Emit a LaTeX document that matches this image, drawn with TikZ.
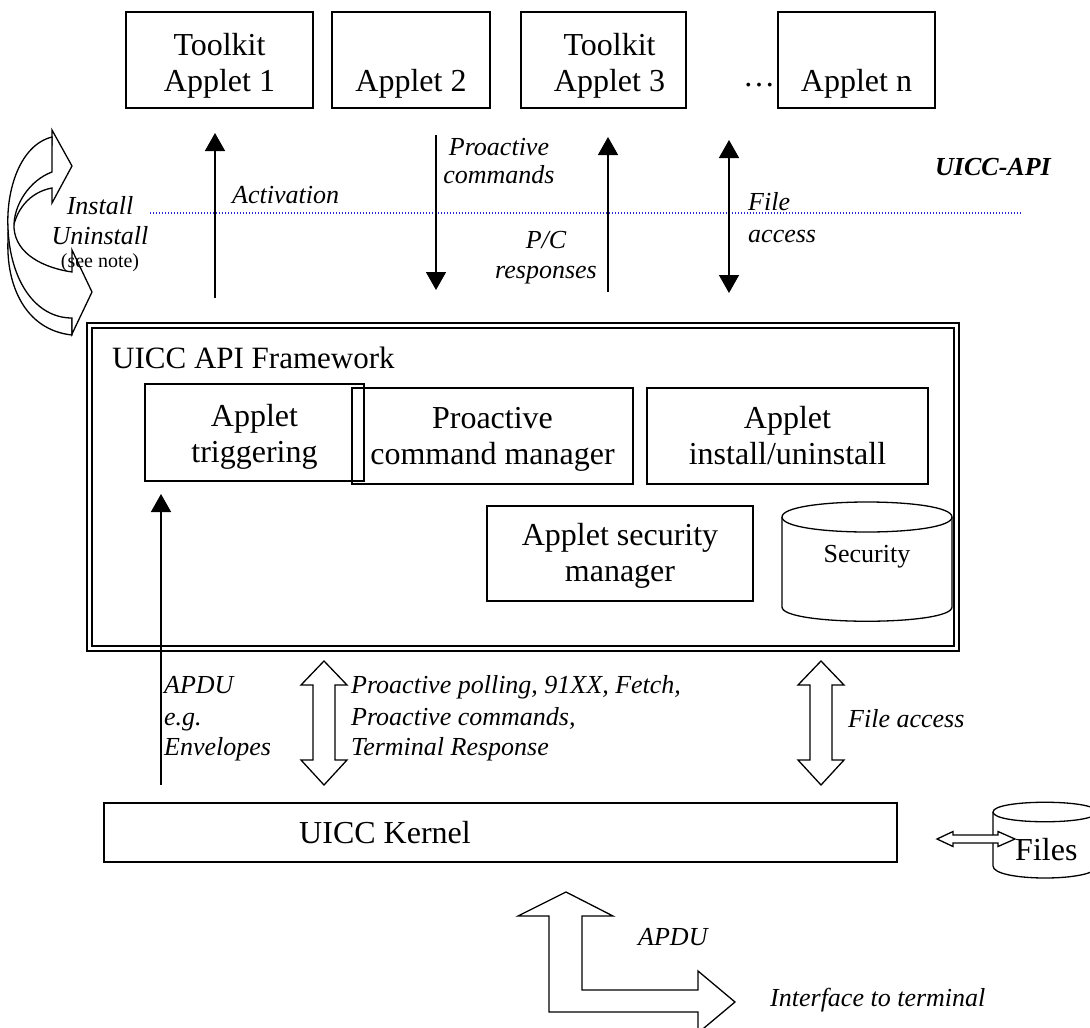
\documentclass[tikz,border=0pt]{standalone}
\usepackage{fontspec}
\setmainfont{Liberation Serif}
\usetikzlibrary{arrows.meta}
\definecolor{apiline}{RGB}{40,40,215}
\begin{document}
\begin{tikzpicture}[x=1pt,y=-1pt,
  box/.style={draw, line width=1.3pt, inner sep=0pt},
  boxtxt/.style={inner sep=0pt, align=center, font=\fontsize{32}{36}\selectfont},
  txt/.style={inner sep=0pt, font=\fontsize{32}{35}\selectfont},
  lbl/.style={inner sep=0pt, font=\fontsize{26}{30}\selectfont\itshape},
  flow/.style={line width=1.5pt, -{Triangle[length=18pt,width=20pt]}},
  flowboth/.style={line width=1.5pt,
     {Triangle[length=18pt,width=20pt]}-{Triangle[length=18pt,width=20pt]}},
  hollow/.style={draw, fill=white, line width=1.3pt, line join=miter},
  vdbl/.pic={\draw[hollow] (0,-62) -- (23,-38) -- (11,-38) -- (11,37) -- (23,37)
       -- (0,62) -- (-23,37) -- (-11,37) -- (-11,-38) -- (-23,-38) -- cycle;},
  hdbl/.pic={\draw[hollow] (-39,0) -- (-23,-7.5) -- (-23,-4) -- (22,-4) -- (22,-7.5)
       -- (39,0) -- (22,7.5) -- (22,4) -- (-23,4) -- (-23,7.5) -- cycle;},
]
\useasboundingbox (0,0) rectangle (1090,1028);

% ---- applets ----
\node[box, minimum width=187pt, minimum height=96pt] (app1) at (219.5,60) {};
\node[box, minimum width=158pt, minimum height=96pt] (app2) at (411,60) {};
\node[box, minimum width=165pt, minimum height=96pt] (app3) at (603.5,60) {};
\node[box, minimum width=157pt, minimum height=96pt] (appn) at (856.5,60) {};
\node[boxtxt] (app1t) at ([yshift=-6pt]app1.center) {\strut Toolkit\\\strut Applet 1};
\node[boxtxt] (app2t) at ([yshift=-6pt]app2.center) {\strut\\\strut Applet 2};
\node[boxtxt] (app3t) at ([xshift=6pt,yshift=-6pt]app3.center) {\strut Toolkit\\\strut Applet 3};
\node[boxtxt] (appnt) at ([yshift=-6pt]appn.center) {\strut\\\strut Applet n};
\node[txt, anchor=base] (dots) at (759,86) {\ldots};

% ---- install / uninstall curved arrows ----
\draw[hollow] (52,145) -- (52,130) -- (72,166) -- (52,203) -- (52,188)
  .. controls (30,192) and (14,210) .. (12,236)
  .. controls (12,262) and (35,292) .. (72,300) -- (72,335)
  .. controls (25,330) and (6,285) .. (8,240)
  .. controls (8,190) and (25,150) .. (52,145) -- cycle;
\draw[hollow] (72,318) -- (72,334) -- (92,292) -- (72,250) -- (72,272)
  .. controls (45,268) and (16,255) .. (14,228)
  .. controls (13,205) and (30,180) .. (52,172) -- (52,137)
  .. controls (20,145) and (6,190) .. (8,228)
  .. controls (10,280) and (35,318) .. (72,318) -- cycle;
\node[lbl, anchor=base] (linst) at (100,214) {Install};
\node[lbl, anchor=base] (luninst) at (100,244) {Uninstall};
\node[inner sep=0pt, font=\fontsize{20}{24}\selectfont, anchor=base] (lnote) at (100,267) {(see note)};

% ---- UICC-API level ----
\coordinate (dotL) at (150,213);
\coordinate (dotR) at (1022,213);
\draw[apiline, line width=1.3pt, dash pattern=on 1.3pt off 1.7pt] (dotL) -- (dotR);
\node[inner sep=0pt, font=\fontsize{26}{30}\selectfont\bfseries\itshape, anchor=base west]
  (lapi) at (935,175) {UICC-API};

\coordinate (actS) at (215,298);  \coordinate (actT) at (215,133);
\coordinate (pcmS) at (436,135);  \coordinate (pcmT) at (436,290);
\coordinate (pcrS) at (608,292);  \coordinate (pcrT) at (608,137);
\coordinate (faT) at (729,140);   \coordinate (faB) at (729,293);
\draw[flow] (actS) -- (actT);
\draw[flow] (pcmS) -- (pcmT);
\draw[flow] (pcrS) -- (pcrT);
\draw[flowboth] (faT) -- (faB);

\node[lbl, anchor=base west] (lact) at (232,203) {Activation};
\node[lbl, anchor=base] (lpc1) at (499,155) {Proactive};
\node[lbl, anchor=base] (lpc2) at (499,183) {commands};
\node[lbl, anchor=base] (lpr1) at (546,248) {P/C};
\node[lbl, anchor=base] (lpr2) at (546,278) {responses};
\node[lbl, anchor=base west] (lfa1) at (748,210) {File};
\node[lbl, anchor=base west] (lfa2) at (748,242) {access};

% ---- framework ----
\node[draw, line width=2.2pt, inner sep=0pt, minimum width=872pt, minimum height=328pt]
  (fw) at (523,487) {};
\node[draw, line width=1.3pt, inner sep=0pt, minimum width=862pt, minimum height=318pt]
  (fwin) at (523,487) {};
\node[inner sep=0pt, font=\fontsize{31}{35}\selectfont, anchor=base west]
  (fwtitle) at (112,368) {UICC API Framework};

\node[box, minimum width=281pt, minimum height=96pt] (proc) at (492.5,436) {};
\node[box, minimum width=219pt, minimum height=97pt] (trig) at (254.5,432.5) {};
\node[box, minimum width=281pt, minimum height=96pt] (inst) at (787.5,436) {};
\node[box, minimum width=266pt, minimum height=95pt] (secm) at (620,553.5) {};
\node[boxtxt] (proct) at ([yshift=-3pt]proc.center) {\strut Proactive\\\strut command manager};
\node[boxtxt] (trigt) at ([yshift=-5pt]trig.center) {\strut Applet\\\strut triggering};
\node[boxtxt] (instt) at ([yshift=-3pt]inst.center) {\strut Applet\\\strut install/uninstall};
\node[boxtxt] (secmt) at ([yshift=-3pt]secm.center) {\strut Applet security\\\strut manager};

% security database
\draw[line width=1.3pt] (782,517) .. controls (782,497) and (952,497) .. (952,517)
  .. controls (952,537) and (782,537) .. (782,517) -- cycle;
\draw[line width=1.3pt] (782,517) -- (782,607) .. controls (782,626) and (952,626) .. (952,607) -- (952,517);
\node[inner sep=0pt, font=\fontsize{26}{30}\selectfont, anchor=base] (lsec) at (867,562) {Security};

% ---- between framework and kernel ----
\coordinate (apduS) at (161,785);
\coordinate (apduT) at (161,494);
\draw[flow] (apduS) -- (apduT);
\node[lbl, anchor=base west] (lap1) at (164,693) {APDU};
\node[lbl, anchor=base west] (lap2) at (164,725) {e.g.};
\node[lbl, anchor=base west] (lap3) at (164,755) {Envelopes};

\pic (pollarrow) at (324,723) {vdbl};
\node[lbl, anchor=base west] (lpo1) at (351,693) {Proactive polling, 91XX, Fetch,};
\node[lbl, anchor=base west] (lpo2) at (351,725) {Proactive commands,};
\node[lbl, anchor=base west] (lpo3) at (351,755) {Terminal Response};

\pic (filearrow) at (821,723) {vdbl};
\node[lbl, anchor=base west] (lfile) at (848,727) {File access};

% ---- kernel and files ----
\node[box, minimum width=793pt, minimum height=59pt] (kernel) at (500.5,832.5) {};
\node[txt, anchor=base] (lkernel) at (385,843) {UICC Kernel};

\draw[line width=1.3pt] (993,812) .. controls (993,799) and (1097,799) .. (1097,812)
  .. controls (1097,825) and (993,825) .. (993,812) -- cycle;
\draw[line width=1.3pt] (993,812) -- (993,866) .. controls (993,882) and (1097,882) .. (1097,866) -- (1097,812);
\node[txt, anchor=base west] (lfiles) at (1015,860) {Files};
\pic (filesarrow) at (976,839) {hdbl};

% ---- terminal interface ----
\draw[hollow] (566,892) -- (613,916) -- (582,916) -- (582,990) -- (698,990) -- (698,971)
  -- (735,1002) -- (698,1033) -- (698,1012) -- (549,1012) -- (549,916) -- (518,916) -- cycle;
\node[lbl, anchor=base west] (lapdu) at (638,945) {APDU};
\node[lbl, anchor=base west] (lterm) at (770,1006) {Interface to terminal};
\end{tikzpicture}
\end{document}
